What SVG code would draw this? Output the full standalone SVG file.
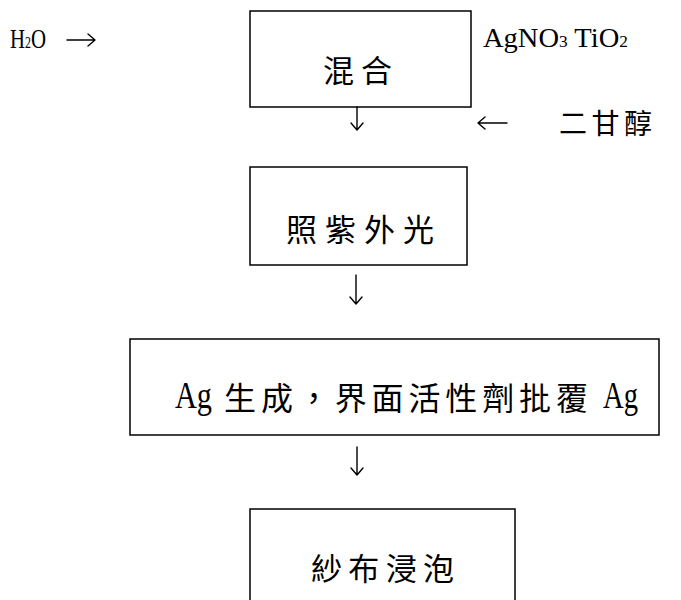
<svg xmlns="http://www.w3.org/2000/svg" width="681" height="600" viewBox="0 0 681 600">
<style>
.box{fill:#fff;stroke:#000;stroke-width:1.5}
.cjk{font-family:"Noto Sans CJK TC","Noto Sans CJK SC",sans-serif;fill:#000}
.lat{font-family:"Liberation Serif",serif;fill:#000}
.arr{fill:none;stroke:#000;stroke-width:1.4;stroke-linecap:round;stroke-linejoin:round}
</style>
<rect width="681" height="600" fill="#fff"/>
<g id="n-mix">
<rect class="box" x="250" y="11" width="221" height="96"/>
<text class="cjk" x="323" y="82" font-size="31" textLength="69" lengthAdjust="spacing">混合</text>
</g>
<g id="n-h2o">
<text class="lat" x="10" y="48" font-size="28" textLength="36" lengthAdjust="spacingAndGlyphs">H<tspan font-size="16">2</tspan>O</text>
</g>
<g id="n-agno3">
<text class="lat" x="483" y="47" font-size="28" textLength="145" lengthAdjust="spacingAndGlyphs">AgNO<tspan font-size="17">3</tspan> TiO<tspan font-size="17">2</tspan></text>
</g>
<g id="n-deg">
<text class="cjk" x="559" y="134" font-size="28" textLength="93" lengthAdjust="spacing">二甘醇</text>
</g>
<g id="n-uv">
<rect class="box" x="250" y="167" width="217" height="98"/>
<text class="cjk" x="286" y="241" font-size="31" textLength="148" lengthAdjust="spacing">照紫外光</text>
</g>
<g id="n-ag">
<rect class="box" x="130" y="339" width="529" height="96"/>
<text y="408"><tspan class="lat" x="175" font-size="37" textLength="37" lengthAdjust="spacingAndGlyphs">Ag</tspan> <tspan class="cjk" x="224" y="410" font-size="32" textLength="364" lengthAdjust="spacing">生成，界面活性劑批覆</tspan> <tspan class="lat" x="603" y="408" font-size="37" textLength="35" lengthAdjust="spacingAndGlyphs">Ag</tspan></text>
</g>
<g id="n-soak">
<rect class="box" x="250" y="509" width="265" height="100"/>
<text class="cjk" x="311" y="580" font-size="31" textLength="143" lengthAdjust="spacing">紗布浸泡</text>
</g>
<g id="connectors">
<path class="arr" d="M67 40 H95 M88 34 L95 40 L88 46"/>
<path class="arr" d="M507 123 H478 M485 117 L478 123 L485 129"/>
<path class="arr" d="M357 107 V130 M351 123 L357 130 L363 123"/>
<path class="arr" d="M356 275 V304 M350 297 L356 304 L362 297"/>
<path class="arr" d="M357 447 V475 M351 468 L357 475 L363 468"/>
</g>
</svg>
